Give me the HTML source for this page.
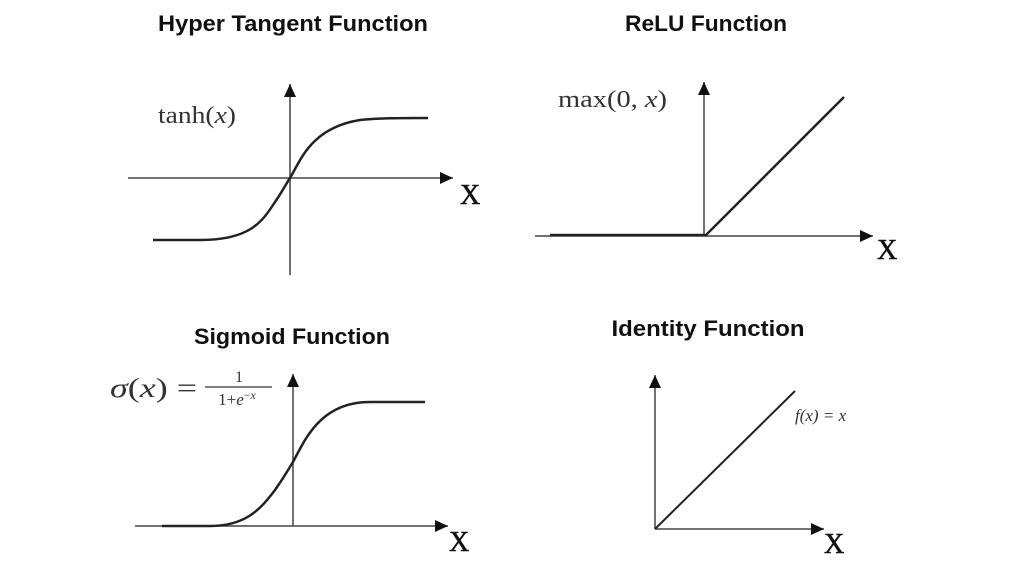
<!DOCTYPE html>
<html><head><meta charset="utf-8"><style>
html,body{margin:0;padding:0;background:#fff;}
svg{display:block}
.t{font-family:"Liberation Sans",sans-serif;font-weight:bold;font-size:22px;fill:#111;text-anchor:middle}
.m{font-family:"Liberation Serif",serif;fill:#333}
.X{font-family:"Liberation Serif",serif;font-size:28px;fill:#111;stroke:#111;stroke-width:0.6}
</style></head><body>
<svg width="1024" height="576" viewBox="0 0 1024 576" xmlns="http://www.w3.org/2000/svg">
<defs>
<marker id="b" markerWidth="14" markerHeight="14" refX="13" refY="6" orient="auto" markerUnits="userSpaceOnUse"><path d="M0,0 L13,6 L0,12 z" fill="#111"/></marker></defs>
<text class="t" x="293" y="31" textLength="270" lengthAdjust="spacingAndGlyphs">Hyper Tangent Function</text>
<text class="t" x="706" y="31" textLength="162" lengthAdjust="spacingAndGlyphs">ReLU Function</text>
<text class="t" x="292" y="344" textLength="196" lengthAdjust="spacingAndGlyphs">Sigmoid Function</text>
<text class="t" x="708" y="336" textLength="193" lengthAdjust="spacingAndGlyphs">Identity Function</text>

<g stroke="#444" stroke-width="1.5" fill="none">
<line x1="128" y1="178" x2="453" y2="178" marker-end="url(#b)"/>
<line x1="290" y1="275" x2="290" y2="84" marker-end="url(#b)"/>
<line x1="535" y1="236" x2="873" y2="236" marker-end="url(#b)"/>
<line x1="704" y1="236" x2="704" y2="82" marker-end="url(#b)"/>
<line x1="135" y1="526" x2="448" y2="526" marker-end="url(#b)"/>
<line x1="293" y1="526" x2="293" y2="374" marker-end="url(#b)"/>
<line x1="655" y1="529" x2="824" y2="529" marker-end="url(#b)"/>
<line x1="655" y1="529" x2="655" y2="375" marker-end="url(#b)"/>
</g>
<g stroke="#222" stroke-width="2.5" fill="none">
<path d="M153,240 L200,240 C250,240 262,222 275,202 C282,192 286,184 290,178 C300,162 310,128 360,120 C380,118 400,118 428,118"/>
<path d="M162,526 L210,526 C245,526 260,510 275,490 C285,476 288,470 293,462 C305,440 320,402 370,402 L425,402"/>
<line x1="550" y1="235" x2="705" y2="235"/>
<line x1="705" y1="236" x2="844" y2="97"/>
<line x1="655" y1="529" x2="795" y2="391" stroke-width="2"/>
</g>
<text class="m" x="158" y="123" font-size="24" textLength="78" lengthAdjust="spacingAndGlyphs">tanh(<tspan font-style="italic">x</tspan>)</text>
<text class="m" x="558" y="107" font-size="24" textLength="109" lengthAdjust="spacingAndGlyphs">max(0, <tspan font-style="italic">x</tspan>)</text>
<text class="m" x="110" y="397" font-size="27" textLength="87" lengthAdjust="spacingAndGlyphs"><tspan font-style="italic">σ</tspan>(<tspan font-style="italic">x</tspan>) =</text>
<text class="m" x="239" y="382" font-size="16" text-anchor="middle">1</text>
<line x1="205" y1="387" x2="272" y2="387" stroke="#333" stroke-width="1.2"/>
<text class="m" x="237" y="405" font-size="17" text-anchor="middle">1+<tspan font-style="italic">e</tspan><tspan font-size="12" dy="-6">−<tspan font-style="italic">x</tspan></tspan></text>
<text class="m" x="795" y="421" font-size="17" font-style="italic" fill="#444">f(x) = x</text>
<text class="X" x="460" y="204">X</text>
<text class="X" x="877" y="259">X</text>
<text class="X" x="449" y="551">X</text>
<text class="X" x="824" y="553">X</text>
</svg>
</body></html>
